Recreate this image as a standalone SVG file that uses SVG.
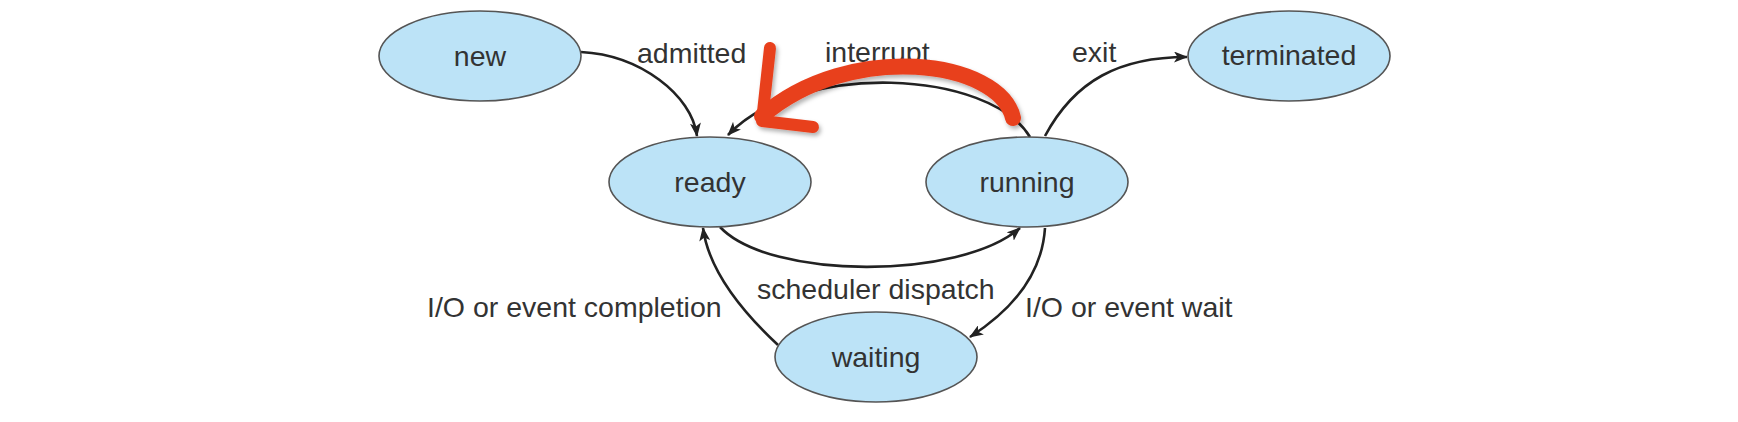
<svg xmlns="http://www.w3.org/2000/svg" width="1738" height="422" viewBox="0 0 1738 422">
<style>
.node ellipse{fill:#BCE3F7;stroke:#555;stroke-width:1.6}
.node text{font-family:"Liberation Sans",Arial,sans-serif;font-size:28.5px;fill:#333;text-anchor:middle}
.lbl{font-family:"Liberation Sans",Arial,sans-serif;font-size:28.5px;fill:#333}
.edge{fill:none;stroke:#222;stroke-width:2.6}
.red{fill:none;stroke:#E8411F;stroke-linecap:round;stroke-linejoin:round}
</style>
<defs>
<marker id="ah" viewBox="0 0 14 11" refX="13" refY="5.5" markerWidth="14" markerHeight="11" markerUnits="userSpaceOnUse" orient="auto">
<path d="M0,0 L14,5.5 L0,11 L3.5,5.5 z" fill="#222"/>
</marker>
<filter id="sh" x="-10%" y="-30%" width="120%" height="160%">
<feDropShadow dx="2" dy="3" stdDeviation="2" flood-color="#000" flood-opacity="0.3"/>
</filter>
</defs>
<rect width="1738" height="422" fill="#fff"/>
<g id="connectors">
<path class="edge" d="M581,52 C640,55 692,95 697,136" marker-end="url(#ah)"/>
<path class="edge" d="M1030,137 C990,70 800,60 728,135" marker-end="url(#ah)"/>
<path class="edge" d="M1045,136 C1075,80 1120,57 1187,57" marker-end="url(#ah)"/>
<path class="edge" d="M720,227 C770,280 960,280 1020,228" marker-end="url(#ah)"/>
<path class="edge" d="M1045,228 C1042,275 1012,310 970,337" marker-end="url(#ah)"/>
<path class="edge" d="M778,345 C735,305 708,265 703,228" marker-end="url(#ah)"/>
<text class="lbl" x="637" y="63">admitted</text>
<text class="lbl" x="825" y="62">interrupt</text>
<text class="lbl" x="1072" y="62">exit</text>
<text class="lbl" x="757" y="299">scheduler dispatch</text>
<text class="lbl" x="427" y="317">I/O or event completion</text>
<text class="lbl" x="1025" y="317">I/O or event wait</text>
</g>
<g id="node-new" class="node"><ellipse cx="480" cy="56" rx="101" ry="45"/><text x="480" y="66">new</text></g>
<g id="node-ready" class="node"><ellipse cx="710" cy="182" rx="101" ry="45"/><text x="710" y="192">ready</text></g>
<g id="node-running" class="node"><ellipse cx="1027" cy="182" rx="101" ry="45"/><text x="1027" y="192">running</text></g>
<g id="node-terminated" class="node"><ellipse cx="1289" cy="56" rx="101" ry="45"/><text x="1289" y="65">terminated</text></g>
<g id="node-waiting" class="node"><ellipse cx="876" cy="357" rx="101" ry="45"/><text x="876" y="367">waiting</text></g>
<g id="annotation" filter="url(#sh)">
<path class="red" stroke-width="16" d="M1013,118 C1000,60 850,40 762,116"/>
<path class="red" stroke-width="12" d="M770,48 L762,121 L813,127"/>
</g>
</svg>
